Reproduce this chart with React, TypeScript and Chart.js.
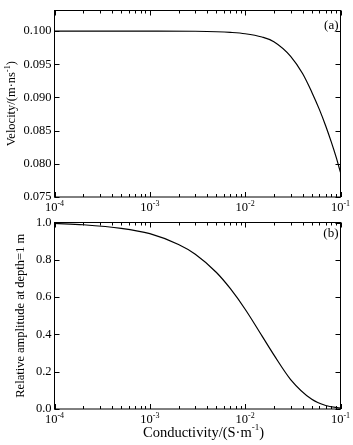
import React, { useEffect, useRef } from 'react';
import { Chart, registerables } from 'chart.js';
Chart.register(...registerables);

const FONT = '"Liberation Serif", "Times New Roman", serif';

// ---- data ----
const velocitySigma = [1e-4, 3e-4, 1e-3, 3e-3, 5e-3, 7e-3, 1e-2, 1.5e-2, 2e-2, 3e-2, 4e-2, 5e-2, 6e-2, 7e-2, 8e-2, 9e-2, 1e-1];
const velocityValues = [0.1, 0.1, 0.1, 0.09997, 0.0999, 0.0998, 0.0996, 0.0991, 0.0984, 0.0962, 0.0936, 0.0908, 0.0882, 0.0857, 0.0833, 0.081, 0.0787];

const amplitudeSigma = [1e-4, 2e-4, 5e-4, 1e-3, 2e-3, 3e-3, 5e-3, 7e-3, 1e-2, 1.5e-2, 2e-2, 3e-2, 5e-2, 7e-2, 1e-1];
const amplitudeValues = [0.995, 0.988, 0.969, 0.94, 0.882, 0.83, 0.732, 0.645, 0.535, 0.392, 0.29, 0.158, 0.052, 0.019, 0.005];

const xDecades = [1e-4, 1e-3, 1e-2, 1e-1];
const xDecadeLabels = [['10', '-4'], ['10', '-3'], ['10', '-2'], ['10', '-1']];
const xMultipliers = [1, 2, 3, 4, 5, 6, 7, 8, 9];

const velocityTitle: [string, boolean][] = [['Velocity/(m·ns', false], ['-1', true], [')', false]];
const amplitudeTitle: [string, boolean][] = [['Relative amplitude at depth=1 m', false]];
const conductivityTitle: [string, boolean][] = [['Conductivity/(S·m', false], ['-1', true], [')', false]];

function richWidth(ctx: CanvasRenderingContext2D, parts: [string, boolean][], base: number, sup: number) {
  let w = 0;
  for (const [t, s] of parts) {
    ctx.font = `${s ? sup : base}px ${FONT}`;
    w += ctx.measureText(t).width;
  }
  return w;
}

function drawRich(ctx: CanvasRenderingContext2D, parts: [string, boolean][], cx: number, cy: number, base: number, sup: number) {
  const w = richWidth(ctx, parts, base, sup);
  let x = cx - w / 2;
  ctx.textAlign = 'left';
  ctx.textBaseline = 'middle';
  for (const [t, s] of parts) {
    ctx.font = `${s ? sup : base}px ${FONT}`;
    ctx.fillText(t, x, s ? cy - base * 0.35 : cy);
    x += ctx.measureText(t).width;
  }
}

type PanelCfg = {
  panel: string;
  panelY: number;
  yTitle: [string, boolean][];
  yTitleX: number;
  xTitle?: [string, boolean][];
};

function makeFrame(cfg: PanelCfg) {
  return {
    id: 'frame',
    afterDraw(chart: any) {
      const ctx: CanvasRenderingContext2D = chart.ctx;
      const { left, right, top, bottom } = chart.chartArea;
      const xs = chart.scales.x;
      const ys = chart.scales.y;
      ctx.save();
      ctx.strokeStyle = '#000';
      ctx.fillStyle = '#000';
      ctx.lineWidth = 1;
      ctx.strokeRect(left, top, right - left, bottom - top);
      ctx.beginPath();
      xDecades.forEach((d) => {
        xMultipliers.forEach((k) => {
          const v = d * k;
          if (v > xDecades[xDecades.length - 1] * 1.0001) return;
          const px = Math.round(xs.getPixelForValue(v)) + 0.5;
          const len = k === 1 ? 5 : 3;
          ctx.moveTo(px, bottom);
          ctx.lineTo(px, bottom - len);
          ctx.moveTo(px, top);
          ctx.lineTo(px, top + len);
        });
      });
      ys.ticks.forEach((t: any) => {
        const py = Math.round(ys.getPixelForValue(t.value)) + 0.5;
        ctx.moveTo(left, py);
        ctx.lineTo(left + 5, py);
        ctx.moveTo(right, py);
        ctx.lineTo(right - 5, py);
      });
      ctx.stroke();
      // x tick labels
      xDecades.forEach((d, i) => {
        const px = xs.getPixelForValue(d);
        drawRich(ctx, [[xDecadeLabels[i][0], false], [xDecadeLabels[i][1], true]], px, bottom + 11, 12.5, 8);
      });
      // x title
      if (cfg.xTitle) {
        drawRich(ctx, cfg.xTitle, (left + right) / 2 + 6, bottom + 24, 14.5, 9);
      }
      // y title
      ctx.save();
      ctx.translate(cfg.yTitleX, (top + bottom) / 2);
      ctx.rotate(-Math.PI / 2);
      drawRich(ctx, cfg.yTitle, 0, 0, 12.5, 8);
      ctx.restore();
      // panel label
      ctx.font = `13px ${FONT}`;
      ctx.textAlign = 'right';
      ctx.textBaseline = 'middle';
      ctx.fillText(cfg.panel, right - 2, top + cfg.panelY);
      ctx.restore();
    },
  };
}

function buildConfig(sig: number[], vals: number[], yMin: number, yMax: number, step: number, digits: number, xAxisHeight: number, padTop: number, cfg: PanelCfg): any {
  return {
    type: 'line',
    data: {
      datasets: [
        {
          data: sig.map((s, i) => ({ x: s, y: vals[i] })),
          borderColor: '#000',
          borderWidth: 1.2,
          pointRadius: 0,
          fill: false,
          cubicInterpolationMode: 'monotone',
        },
      ],
    },
    options: {
      animation: false,
      responsive: false,
      maintainAspectRatio: false,
      layout: { padding: { top: padTop, right: 12.5, left: 0, bottom: 0 } },
      plugins: { legend: { display: false }, tooltip: { enabled: false } },
      scales: {
        x: {
          type: 'logarithmic',
          min: 1e-4,
          max: 1e-1,
          grid: { display: false, drawTicks: false },
          border: { display: false },
          ticks: { display: false },
          afterFit: (s: any) => { s.height = xAxisHeight; },
        },
        y: {
          type: 'linear',
          min: yMin,
          max: yMax,
          grid: { display: false, drawTicks: false },
          border: { display: false },
          ticks: {
            stepSize: step,
            includeBounds: false,
            color: '#000',
            padding: 3,
            font: { family: FONT, size: 12.5 },
            callback: (v: any) => Number(v).toFixed(digits),
          },
          afterFit: (s: any) => { s.width = 54.5; },
        },
      },
    },
    plugins: [makeFrame(cfg)],
  };
}

export default function App() {
  const topRef = useRef<HTMLCanvasElement>(null);
  const botRef = useRef<HTMLCanvasElement>(null);
  useEffect(() => {
    const c1 = new Chart(topRef.current!, buildConfig(velocitySigma, velocityValues, 0.075, 0.1031, 0.005, 3, 18, 7, {
      panel: '(a)', panelY: 15, yTitle: velocityTitle, yTitleX: 12,
    }));
    const c2 = new Chart(botRef.current!, buildConfig(amplitudeSigma, amplitudeValues, 0, 1, 0.2, 1, 36, 8, {
      panel: '(b)', panelY: 11, yTitle: amplitudeTitle, yTitleX: 21, xTitle: conductivityTitle,
    }));
    return () => { c1.destroy(); c2.destroy(); };
  }, []);
  return (
    <div style={{ position: 'absolute', left: 0, top: 0, width: 353, height: 445, background: '#fff' }}>
      <canvas ref={topRef} width={353} height={215} style={{ position: 'absolute', left: 0, top: 0 }} />
      <canvas ref={botRef} width={353} height={233} style={{ position: 'absolute', left: 0, top: 212 }} />
    </div>
  );
}
